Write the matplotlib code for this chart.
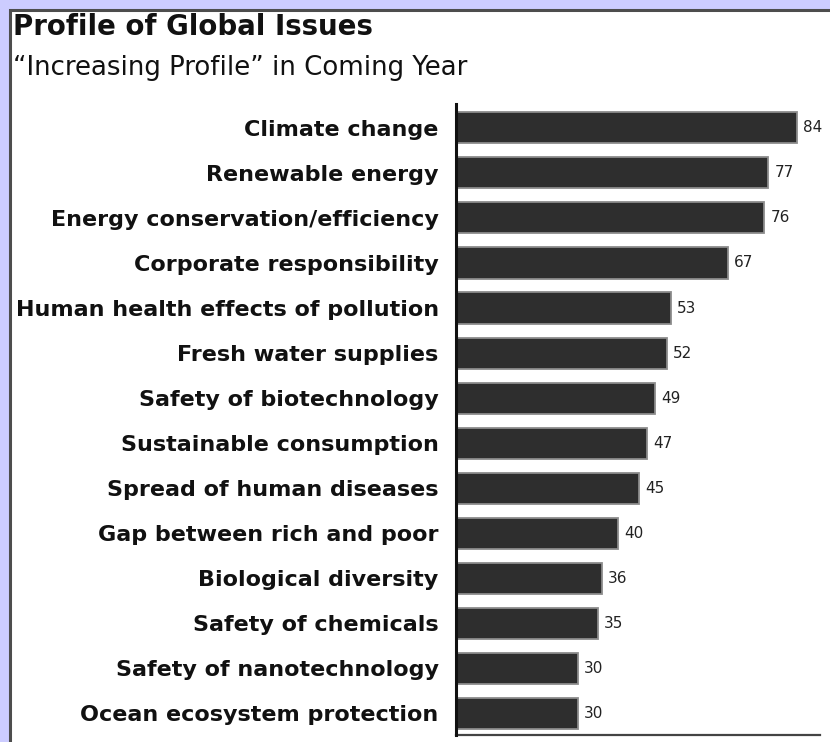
import matplotlib
matplotlib.use("Agg")
import matplotlib.pyplot as plt
from matplotlib.patches import Rectangle

# Данные
issues = [
    "Climate change",
    "Renewable energy",
    "Energy conservation/efficiency",
    "Corporate responsibility",
    "Human health effects of pollution",
    "Fresh water supplies",
    "Safety of biotechnology",
    "Sustainable consumption",
    "Spread of human diseases",
    "Gap between rich and poor",
    "Biological diversity",
    "Safety of chemicals",
    "Safety of nanotechnology",
    "Ocean ecosystem protection",
]
values = [84, 77, 76, 67, 53, 52, 49, 47, 45, 40, 36, 35, 30, 30]

TITLE = "Profile of Global Issues"
SUBTITLE = "\u201cIncreasing Profile\u201d in Coming Year"

BG_COLOR = "#ccccff"
BAR_COLOR = "#2e2e2e"
EDGE_COLOR = "#8c8c8c"
TEXT_COLOR = "#111111"

W, H = 830, 742
fig = plt.figure(figsize=(W / 100, H / 100), dpi=100, facecolor=BG_COLOR)

# белая панель с серой рамкой
fig.patches.append(Rectangle((9.5 / W, -0.1), 1.2, 1 - 9.5 / H + 0.1,
                             transform=fig.transFigure, facecolor="white",
                             edgecolor="#4d4d4d", linewidth=2.2, zorder=-5))

fig.text(13 / W, 1 - 35 / H, TITLE, fontsize=19.9, fontweight="bold",
         color=TEXT_COLOR, ha="left", va="baseline")
fig.text(13 / W, 1 - 75 / H, SUBTITLE, fontsize=18.7, color=TEXT_COLOR,
         ha="left", va="baseline")

ax = fig.add_axes([456 / W, 1 - 735 / H, (820 - 456) / W, (735 - 104) / H])
ax.set_facecolor("none")

ypos = list(range(len(issues)))
bars = ax.barh(ypos, values, height=0.69, color=BAR_COLOR,
               edgecolor=EDGE_COLOR, linewidth=1.3, zorder=2)

for b, v in zip(bars, values):
    ax.annotate(str(v), xy=(b.get_width(), b.get_y() + b.get_height() / 2),
                xytext=(4.5, 0), textcoords="offset points", va="center",
                ha="left", fontsize=11, color="#222222")

ax.set_xlim(0, (820 - 456) / 4.056)
ax.set_ylim(len(issues) - 1 + 0.48, -0.53)
ax.set_yticks(ypos)
ax.set_yticklabels(issues, fontsize=16, fontweight="bold", color=TEXT_COLOR)
ax.tick_params(axis="y", length=0, pad=12.5)
ax.set_xticks([])

for spine in ["top", "right"]:
    ax.spines[spine].set_visible(False)
ax.spines["left"].set_linewidth(2.2)
ax.spines["left"].set_color("#111111")
ax.spines["left"].set_zorder(3)
ax.spines["bottom"].set_linewidth(1.6)
ax.spines["bottom"].set_color("#444444")

fig.savefig("out.png", dpi=100, facecolor=fig.get_facecolor())
plt.close(fig)
